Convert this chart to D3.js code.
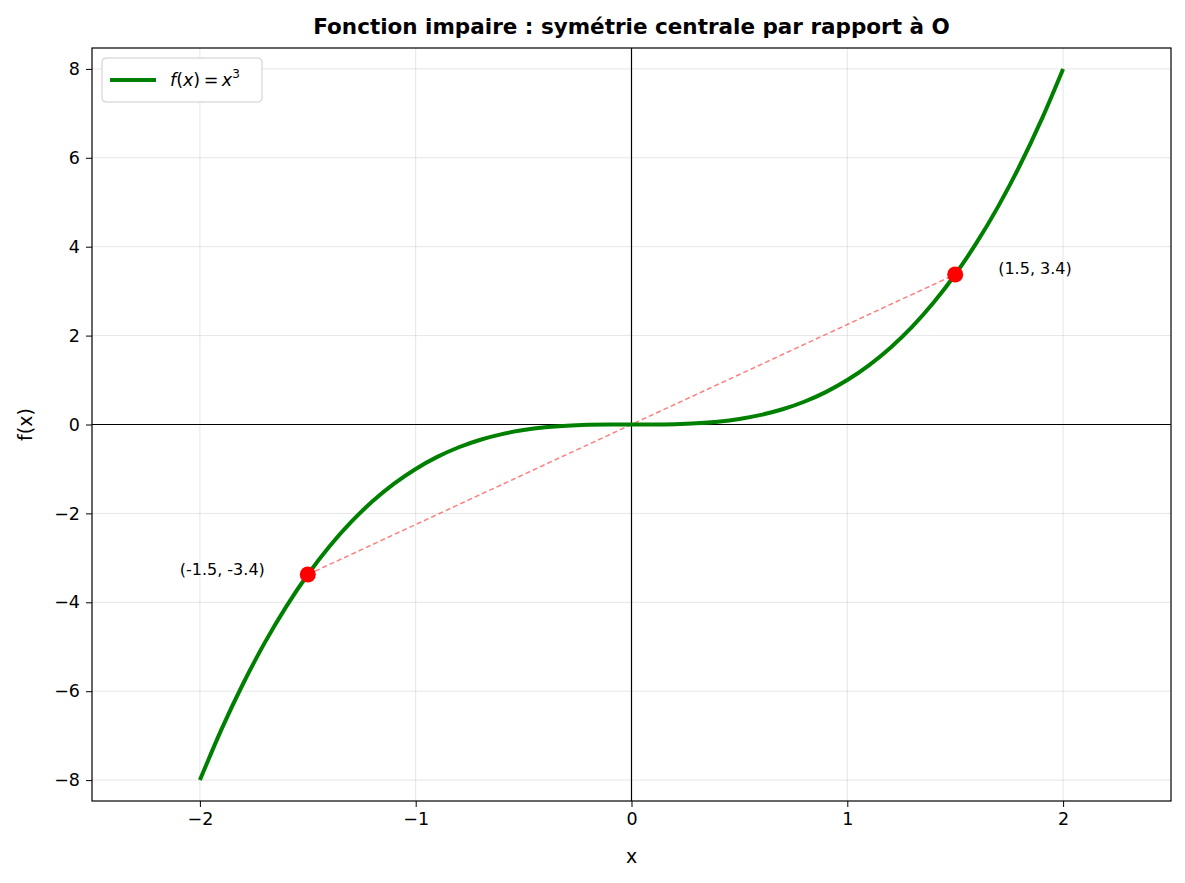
<!DOCTYPE html>
<html><head><meta charset="utf-8">
<script src="https://cdn.jsdelivr.net/npm/d3@7"></script>
<style>body{margin:0;background:#fff}text{font-family:"DejaVu Sans",sans-serif}</style>
</head><body><svg id="c" width="1185" height="883"></svg>
<script>
const curveX = [-2,-1.9,-1.8,-1.7,-1.6,-1.5,-1.4,-1.3,-1.2,-1.1,-1,-0.9,-0.8,-0.7,-0.6,-0.5,-0.4,-0.3,-0.2,-0.1,0,0.1,0.2,0.3,0.4,0.5,0.6,0.7,0.8,0.9,1,1.1,1.2,1.3,1.4,1.5,1.6,1.7,1.8,1.9,2];
const curveY = [-8,-6.859,-5.832,-4.913,-4.096,-3.375,-2.744,-2.197,-1.728,-1.331,-1,-0.729,-0.512,-0.343,-0.216,-0.125,-0.064,-0.027,-0.008,-0.001,0,0.001,0.008,0.027,0.064,0.125,0.216,0.343,0.512,0.729,1,1.331,1.728,2.197,2.744,3.375,4.096,4.913,5.832,6.859,8];
const pointsX = [1.5,-1.5];
const pointsY = [3.375,-3.375];
const pointLabels = ["(1.5, 3.4)","(-1.5, -3.4)"];
const xTicks = [-2,-1,0,1,2];
const yTicks = [-8,-6,-4,-2,0,2,4,6,8];

const svg = d3.select("#c");
const L=92,R=1171,T=48,B=801;
const x = d3.scaleLinear().domain([-2.5,2.5]).range([L,R]);
const y = d3.scaleLinear().domain([-8.47,8.47]).range([B,T]);
const fmt = d=> d<0? "\u2212"+Math.abs(d) : ""+d;

svg.append("g").selectAll("line").data(xTicks).join("line")
 .attr("x1",d=>x(d)).attr("x2",d=>x(d)).attr("y1",T).attr("y2",B)
 .attr("stroke","#000").attr("stroke-opacity",0.1).attr("stroke-width",1);
svg.append("g").selectAll("line").data(yTicks).join("line")
 .attr("y1",d=>y(d)).attr("y2",d=>y(d)).attr("x1",L).attr("x2",R)
 .attr("stroke","#000").attr("stroke-opacity",0.1).attr("stroke-width",1);
svg.append("line").attr("x1",L).attr("x2",R).attr("y1",y(0)).attr("y2",y(0)).attr("stroke","#000").attr("stroke-width",1.2);
svg.append("line").attr("x1",x(0)).attr("x2",x(0)).attr("y1",T).attr("y2",B).attr("stroke","#000").attr("stroke-width",1.2);

svg.append("line").attr("x1",x(pointsX[1])).attr("y1",y(pointsY[1])).attr("x2",x(pointsX[0])).attr("y2",y(pointsY[0]))
 .attr("stroke","red").attr("stroke-opacity",0.5).attr("stroke-width",1.5).attr("stroke-dasharray","5,3");

const pts = curveX.map((v,i)=>[v,curveY[i]]);
svg.append("path").datum(pts).attr("d",d3.line().x(d=>x(d[0])).y(d=>y(d[1])).curve(d3.curveMonotoneX))
 .attr("fill","none").attr("stroke","green").attr("stroke-width",4);

svg.append("g").selectAll("circle").data(pointsX).join("circle")
 .attr("cx",d=>x(d)).attr("cy",(d,i)=>y(pointsY[i])).attr("r",8).attr("fill","red");
svg.append("text").attr("x",x(pointsX[0])+43).attr("y",y(pointsY[0])).attr("font-size",16).text(pointLabels[0]);
svg.append("text").attr("x",x(pointsX[1])-43).attr("y",y(pointsY[1])).attr("text-anchor","end").attr("font-size",16).text(pointLabels[1]);

svg.append("rect").attr("x",L).attr("y",T).attr("width",R-L).attr("height",B-T).attr("fill","none").attr("stroke","#000").attr("stroke-width",1.2);

const gx = svg.append("g").attr("transform",`translate(0,${B})`).call(d3.axisBottom(x).tickValues(xTicks).tickFormat(fmt).tickSize(6).tickPadding(6));
const gy = svg.append("g").attr("transform",`translate(${L},0)`).call(d3.axisLeft(y).tickValues(yTicks).tickFormat(fmt).tickSize(6).tickPadding(6));
[gx,gy].forEach(g=>{g.select(".domain").remove();g.selectAll("text").attr("font-size",17.5).attr("fill","#000").style("font-family","DejaVu Sans");g.selectAll("line").attr("stroke","#000");});

svg.append("text").attr("x",(L+R)/2).attr("y",863).attr("text-anchor","middle").attr("font-size",19).text("x");
svg.append("text").attr("transform",`translate(32,${(T+B)/2}) rotate(-90)`).attr("text-anchor","middle").attr("font-size",19).text("f(x)");
svg.append("text").attr("x",(L+R)/2).attr("y",34).attr("text-anchor","middle").attr("font-size",21.5).attr("font-weight","bold").text("Fonction impaire : symétrie centrale par rapport à O");

svg.append("rect").attr("x",102).attr("y",58).attr("width",160).attr("height",44).attr("rx",4).attr("fill","#fff").attr("stroke","#ccc");
svg.append("line").attr("x1",110).attr("x2",156).attr("y1",80).attr("y2",80).attr("stroke","green").attr("stroke-width",4);
const lt = svg.append("text").attr("x",170).attr("y",86).attr("font-size",17.5);
lt.append("tspan").attr("font-style","italic").text("f");
lt.append("tspan").text("(");
lt.append("tspan").attr("font-style","italic").text("x");
lt.append("tspan").text(")\u2009=\u2009");
lt.append("tspan").attr("font-style","italic").text("x");
lt.append("tspan").attr("font-size",12).attr("dy",-8).text("3");
</script></body></html>
